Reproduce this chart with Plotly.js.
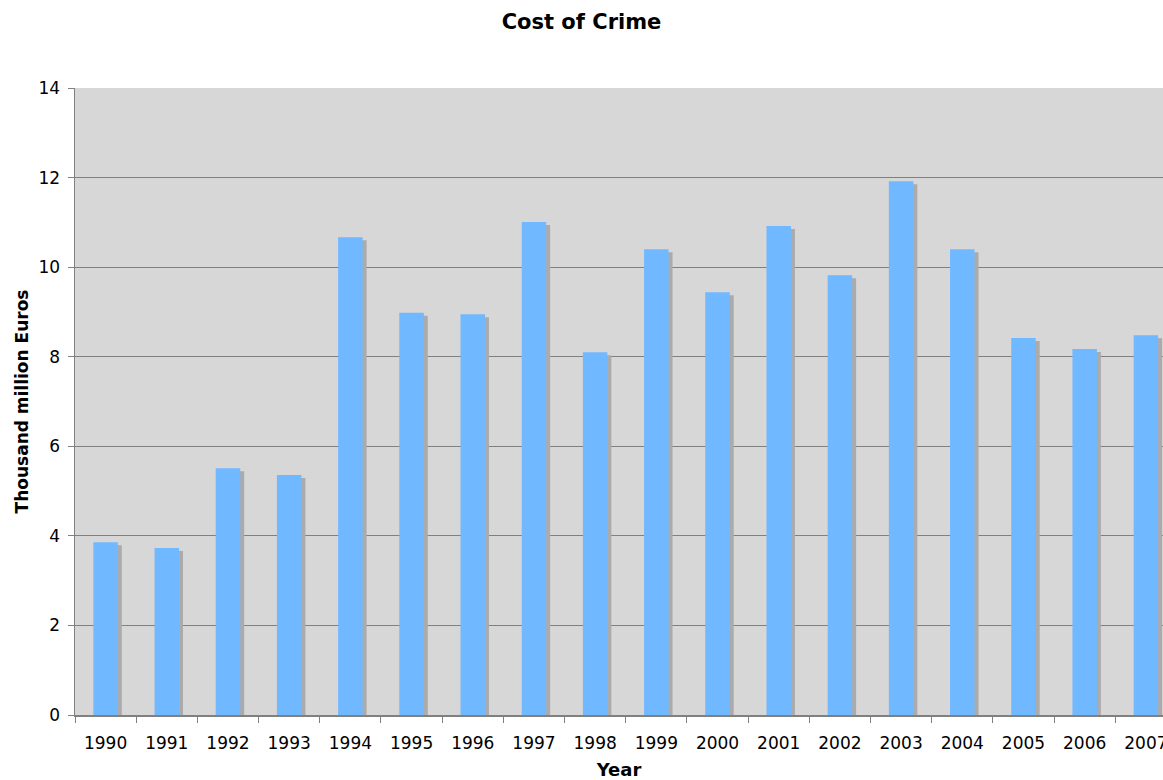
<!DOCTYPE html>
<html>
<head>
<meta charset="utf-8">
<script src="https://cdn.plot.ly/plotly-3.0.1.min.js"></script>
<style>html,body{margin:0;padding:0;background:#fff;}#chart{width:1163px;height:780px;}</style>
</head>
<body>
<div id="chart"></div>
<script>
const years = ["1990","1991","1992","1993","1994","1995","1996","1997","1998","1999","2000","2001","2002","2003","2004","2005","2006","2007"];
const costs = [3.86, 3.73, 5.51, 5.36, 10.67, 8.98, 8.95, 11.01, 8.10, 10.40, 9.44, 10.92, 9.82, 11.92, 10.40, 8.42, 8.17, 8.48];
const yTicks = [0, 2, 4, 6, 8, 10, 12, 14];

const font = "DejaVu Sans, Verdana, sans-serif";

const shadow = {
  type: "bar", x: years, y: costs, base: -0.067,
  width: 0.4, offset: -0.135,
  marker: {color: "#ababab", line: {width: 0}},
  hoverinfo: "skip", showlegend: false
};
const bars = {
  type: "bar", x: years, y: costs,
  width: 0.4, offset: -0.2,
  marker: {color: "#70b8ff", line: {width: 0}},
  name: "Cost", showlegend: false
};

const layout = {
  width: 1163, height: 780,
  margin: {l: 75, r: 0, t: 88, b: 65},
  paper_bgcolor: "#ffffff",
  plot_bgcolor: "#d7d7d7",
  barmode: "overlay",
  title: {text: "<b>Cost of Crime</b>", x: 0.5, xanchor: "center", y: 0.972, yanchor: "middle",
          font: {family: font, size: 21, color: "#000"}},
  font: {family: font, size: 17, color: "#000"},
  xaxis: {
    type: "category", range: [-0.5, 17.28],
    tickson: "boundaries", ticks: "outside", ticklen: 6, tickcolor: "#808080",
    ticklabelstandoff: 12,
    showgrid: false, showline: true, linecolor: "#808080", linewidth: 1.5,
    tickfont: {family: font, size: 17, color: "#000"},
    title: {text: "<b>Year</b>", font: {family: font, size: 18, color: "#000"}, standoff: 11},
    zeroline: false, fixedrange: true
  },
  yaxis: {
    range: [0, 14], tickvals: yTicks, ticktext: yTicks.map(String),
    ticks: "outside", ticklen: 6, tickcolor: "#808080",
    ticklabelstandoff: 4,
    showgrid: true, gridcolor: "#808080", gridwidth: 1,
    showline: true, linecolor: "#808080", linewidth: 1.5,
    zeroline: false,
    tickfont: {family: font, size: 17, color: "#000"},
    title: {text: "<b>Thousand million Euros</b>", font: {family: font, size: 17, color: "#000"}, standoff: 5},
    fixedrange: true
  }
};

Plotly.newPlot("chart", [shadow, bars], layout, {displayModeBar: false, staticPlot: true});
</script>
</body>
</html>
